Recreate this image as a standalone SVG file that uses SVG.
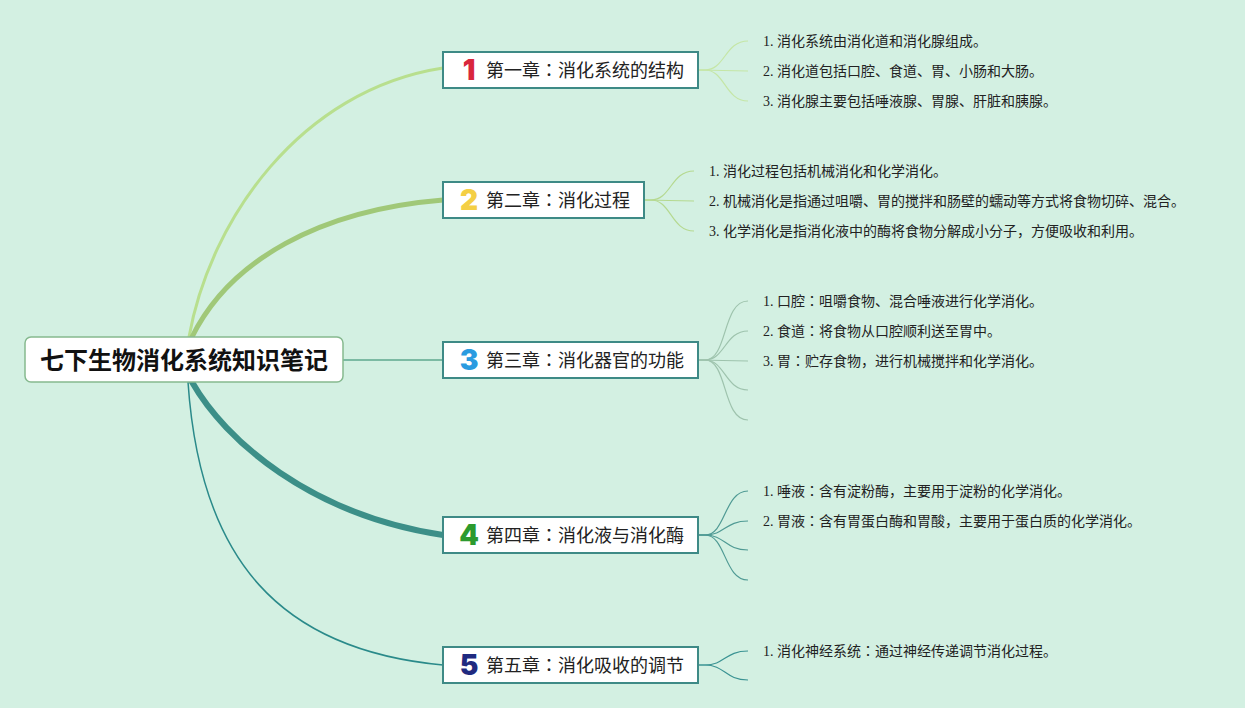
<svg xmlns="http://www.w3.org/2000/svg" width="1245" height="708" viewBox="0 0 1245 708">
<style>
.bg{fill:#d3f0e2}
.root{fill:#ffffff;stroke:#86b98f;stroke-width:1.5}
.rt{font-family:"Noto Sans CJK SC",sans-serif;font-size:24px;font-weight:bold;fill:#111}
.box{fill:#ffffff;stroke:#3e8a86;stroke-width:2}
.nt{font-family:"Noto Sans CJK SC",sans-serif;font-size:18px;fill:#222}
.num{font-family:"Inter","Liberation Sans",sans-serif;font-size:28px;font-weight:900;text-anchor:middle}
.lt{font-family:"Liberation Serif","Noto Sans CJK SC",serif;font-size:14px;fill:#222}
.col{font-family:"Noto Sans CJK JP",sans-serif}
.c{fill:none;stroke-linecap:round}
</style>
<rect class="bg" x="0" y="0" width="1245" height="708"/>
<g id="connectors">
  <path class="c" d="M189,337 C210,220 300,90 443,68" stroke="#b8df8e" stroke-width="3"/>
  <path class="c" d="M192,337 C230,260 320,210 443,200" stroke="#a0c878" stroke-width="5"/>
  <path class="c" d="M343,360 L443,360" stroke="#5fa88f" stroke-width="1.5"/>
  <path class="c" d="M192,382 C225,440 310,515 443,535" stroke="#3c8f88" stroke-width="6"/>
  <path class="c" d="M188,382 C200,560 280,650 443,665" stroke="#2a8a8a" stroke-width="1.5"/>
  <g stroke="#c5e6a6" stroke-width="1.2" fill="none">
    <path d="M698,70 L705,70 C725,70 725,41 748,41"/>
    <path d="M698,70 L748,71"/>
    <path d="M698,70 L705,70 C725,70 725,101 748,101"/>
  </g>
  <g stroke="#b5d990" stroke-width="1.2" fill="none">
    <path d="M644,200 L651,200 C671,200 671,171 694,171"/>
    <path d="M644,200 L694,201"/>
    <path d="M644,200 L651,200 C671,200 671,231 694,231"/>
  </g>
  <g stroke="#9ec3ad" stroke-width="1.2" fill="none">
    <path d="M698,360 L705,360 C728,360 722,301 748,301"/>
    <path d="M698,360 L705,360 C725,360 725,331 748,331"/>
    <path d="M698,360 L748,361"/>
    <path d="M698,360 L705,360 C725,360 725,390 748,390"/>
    <path d="M698,360 L705,360 C728,360 722,420 748,420"/>
  </g>
  <g stroke="#4f9a94" stroke-width="1.2" fill="none">
    <path d="M698,535 L705,535 C726,535 724,491 748,491"/>
    <path d="M698,535 L705,535 C725,535 725,521 748,521"/>
    <path d="M698,535 L705,535 C725,535 725,550 748,550"/>
    <path d="M698,535 L705,535 C726,535 724,580 748,580"/>
  </g>
  <g stroke="#3a9393" stroke-width="1.2" fill="none">
    <path d="M698,665 L705,665 C725,665 725,651 748,651"/>
    <path d="M698,665 L705,665 C725,665 725,680 748,680"/>
  </g>
</g>
<g id="root">
  <rect class="root" x="25" y="337" width="318" height="45" rx="6"/>
  <text class="rt" x="184" y="369" text-anchor="middle">七下生物消化系统知识笔记</text>
</g>
<g id="ch1">
  <rect class="box" x="443" y="52" width="255" height="36"/>
  <text class="num" x="469" y="80" fill="#d9263c">1</text>
  <text class="nt" x="486" y="77">第一章<tspan class="col">：</tspan>消化系统的结构</text>
</g>
<g id="ch2">
  <rect class="box" x="443" y="182" width="201" height="36"/>
  <text class="num" x="469" y="210" fill="#f4cf45">2</text>
  <text class="nt" x="486" y="207">第二章<tspan class="col">：</tspan>消化过程</text>
</g>
<g id="ch3">
  <rect class="box" x="443" y="342" width="255" height="36"/>
  <text class="num" x="469" y="370" fill="#2a9be0">3</text>
  <text class="nt" x="486" y="367">第三章<tspan class="col">：</tspan>消化器官的功能</text>
</g>
<g id="ch4">
  <rect class="box" x="443" y="517" width="255" height="36"/>
  <text class="num" x="469" y="545" fill="#2c9a2e">4</text>
  <text class="nt" x="486" y="542">第四章<tspan class="col">：</tspan>消化液与消化酶</text>
</g>
<g id="ch5">
  <rect class="box" x="443" y="647" width="255" height="36"/>
  <text class="num" x="469" y="675" fill="#1f2a80">5</text>
  <text class="nt" x="486" y="672">第五章<tspan class="col">：</tspan>消化吸收的调节</text>
</g>
<g id="leaves">
  <text class="lt" x="763" y="46">1. 消化系统由消化道和消化腺组成。</text>
  <text class="lt" x="763" y="76">2. 消化道包括口腔、食道、胃、小肠和大肠。</text>
  <text class="lt" x="763" y="106">3. 消化腺主要包括唾液腺、胃腺、肝脏和胰腺。</text>
  <text class="lt" x="709" y="176">1. 消化过程包括机械消化和化学消化。</text>
  <text class="lt" x="709" y="206">2. 机械消化是指通过咀嚼、胃的搅拌和肠壁的蠕动等方式将食物切碎、混合。</text>
  <text class="lt" x="709" y="236">3. 化学消化是指消化液中的酶将食物分解成小分子，方便吸收和利用。</text>
  <text class="lt" x="763" y="306">1. 口腔<tspan class="col">：</tspan>咀嚼食物、混合唾液进行化学消化。</text>
  <text class="lt" x="763" y="336">2. 食道<tspan class="col">：</tspan>将食物从口腔顺利送至胃中。</text>
  <text class="lt" x="763" y="366">3. 胃<tspan class="col">：</tspan>贮存食物，进行机械搅拌和化学消化。</text>
  <text class="lt" x="763" y="496">1. 唾液<tspan class="col">：</tspan>含有淀粉酶，主要用于淀粉的化学消化。</text>
  <text class="lt" x="763" y="526">2. 胃液<tspan class="col">：</tspan>含有胃蛋白酶和胃酸，主要用于蛋白质的化学消化。</text>
  <text class="lt" x="763" y="656">1. 消化神经系统<tspan class="col">：</tspan>通过神经传递调节消化过程。</text>
</g>
</svg>
